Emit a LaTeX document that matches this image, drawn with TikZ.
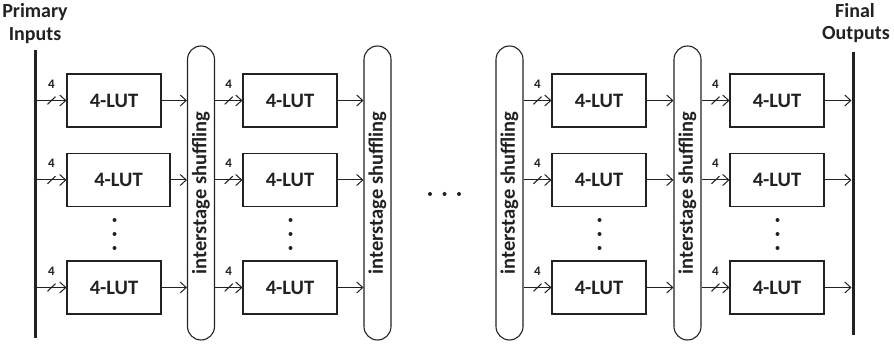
\documentclass[tikz,border=0pt]{standalone}
\usepackage{fontspec}
\setmainfont{Carlito}
\usetikzlibrary{arrows.meta,calc}
\definecolor{ink}{HTML}{222222}
\begin{document}
\begin{tikzpicture}[x=1pt,y=-1pt,
  title/.style={anchor=base,inner sep=0pt,font=\fontsize{20}{20}\selectfont\bfseries,text=ink},
  lut/.style={draw=ink,line width=1.1pt,minimum width=94pt,minimum height=53pt,inner sep=0pt,
    font=\fontsize{20.5}{20.5}\selectfont\bfseries,text=ink},
  shuffler/.style={draw=ink,line width=1.1pt,rounded corners=13.5pt,minimum width=27pt,
    minimum height=294pt,inner sep=0pt,font=\fontsize{20.5}{20.5}\selectfont\bfseries,text=ink},
  sig/.style={draw=ink,line width=1pt,-{Straight Barb[length=6pt,width=11pt,line width=1pt]}},
  rail/.style={draw=ink,line width=3pt},
  dot/.style={fill=ink,circle,inner sep=0pt,minimum size=4pt},
  widthlabel/.style={inner sep=0pt,anchor=base,text=ink},
  tick/.style={draw=ink,line width=1.1pt}]
\useasboundingbox (0,0) rectangle (894,344);

% input and output rails with their titles
\draw[rail] (35,50) coordinate (inTop) -- (35,338) coordinate (inBot);
\draw[rail] (853,52) coordinate (outTop) -- (853,335) coordinate (outBot);
\node[title] (tPrim) at (35,18) {Primary};
\node[title] (tInp)  at (35,41) {Inputs};
\node[title] (tFin)  at (855,18) {Final};
\node[title] (tOut)  at (856,40) {Outputs};

% interstage shuffling networks
\foreach \p/\x in {1/201,2/377.5,3/509.5,4/687.5}
  \node[shuffler] (p\p) at (\x,193) {\rotatebox{90}{interstage shuffling}};

% LUT columns: rows 1, 2 and the last row
\foreach \c/\x in {1/114,2/290,3/599,4/777}{
  \node[lut] (b\c1) at (\x,100.5) {4-LUT};
  \node[lut] (b\c3) at (\x,287.5) {4-LUT};
  \foreach \dy in {220,234,248}
    \node[dot] at (\x+0.5,\dy) {};
}
\node[lut,minimum width=103pt] (b12) at (118.5,180) {4-LUT};
\foreach \c/\x in {2/290,3/599,4/777}
  \node[lut] (b\c2) at (\x,180) {4-LUT};

% ellipsis between the stages
\foreach \x in {430,444.5,459}
  \node[dot] at (\x,194) {};

% primary inputs into the first column (4-bit buses)
\foreach \r/\y in {1/100.5,2/180,3/287.5}{
  \coordinate (in\r) at (36.5,\y);
  \draw[sig] (in\r) -- (b1\r.west) coordinate[midway] (m);
  \draw[tick] ($(m)+(-4,3.8)$) -- ($(m)+(4,-3.8)$);
  \node[widthlabel] at ($(m)+(0,-12)$) {\fontsize{13}{13}\selectfont\bfseries 4};
}

% column outputs into the shuffling networks
\foreach \c/\p in {1/1,2/2,3/4}
  \foreach \r in {1,2,3}
    \draw[sig] (b\c\r.east) -- (b\c\r.east -| p\p.west);

% shuffling networks into the next column (4-bit buses)
\foreach \p/\c in {1/2,3/3,4/4}
  \foreach \r in {1,2,3}{
    \draw[sig] (b\c\r.west -| p\p.east) -- (b\c\r.west) coordinate[midway] (m);
    \draw[tick] ($(m)+(-4,3.8)$) -- ($(m)+(4,-3.8)$);
    \node[widthlabel] at ($(m)+(0,-12)$) {\fontsize{13}{13}\selectfont\bfseries 4};
  }

% last column into the final outputs
\foreach \r in {1,2,3}{
  \coordinate (out\r) at ($(b4\r.east -| outTop)+(-1.5,0)$);
  \draw[sig] (b4\r.east) -- (out\r);
}
\end{tikzpicture}
\end{document}
